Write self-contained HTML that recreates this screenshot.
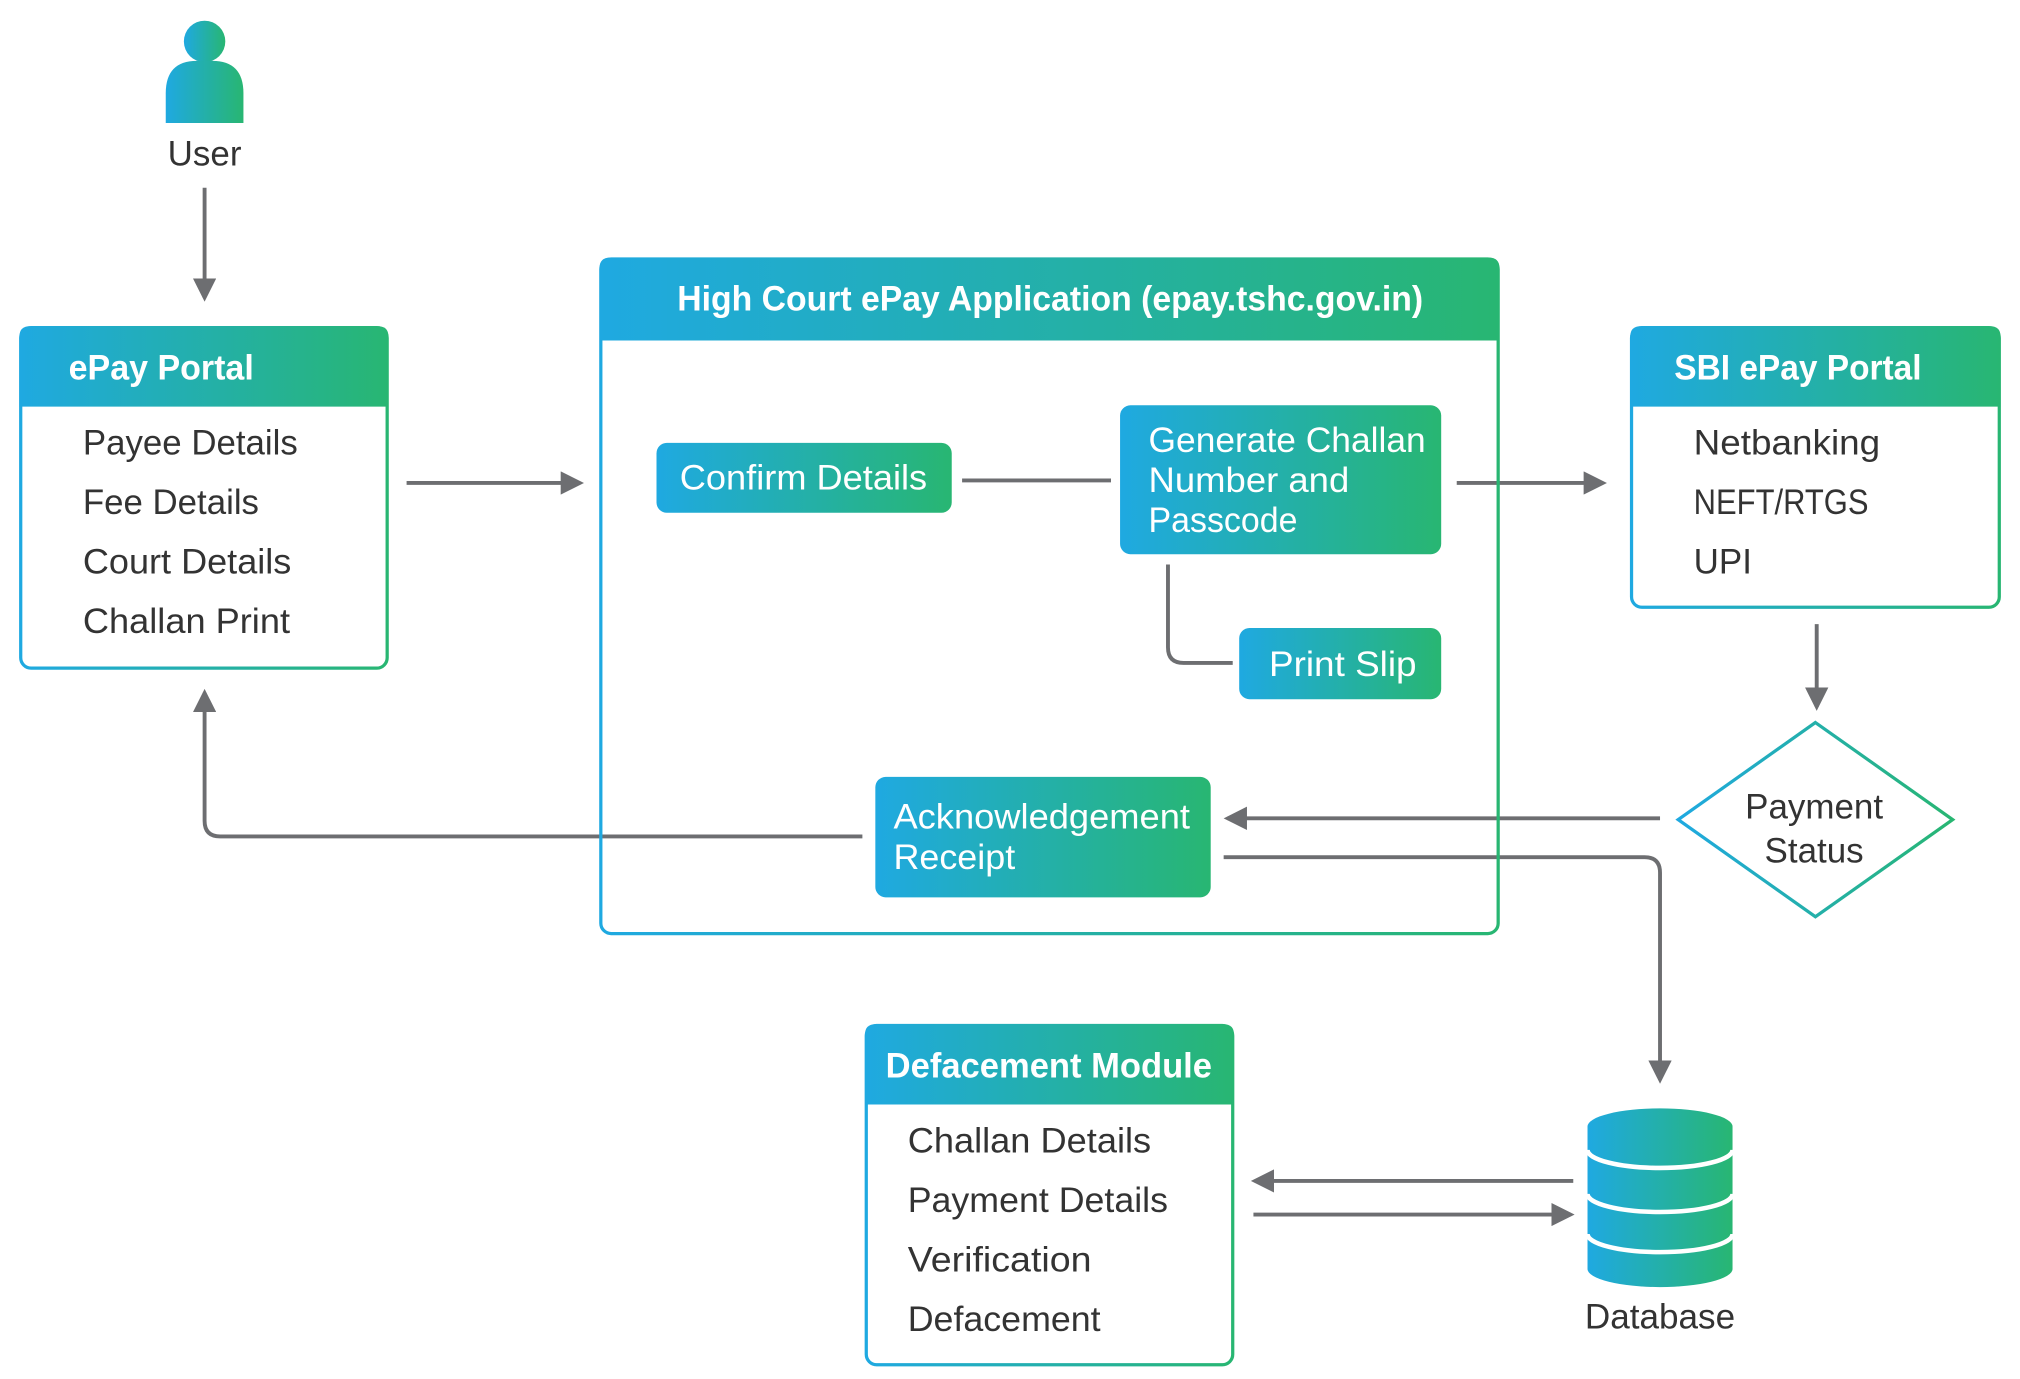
<!DOCTYPE html>
<html><head><meta charset="utf-8"><style>html,body{margin:0;padding:0;background:#fff}svg{display:block}</style></head>
<body>
<svg width="2020" height="1379" viewBox="0 0 1560 1065" preserveAspectRatio="none" xmlns="http://www.w3.org/2000/svg" font-family="'Liberation Sans',sans-serif">
<defs>
<linearGradient id="g" x1="0" y1="0" x2="1" y2="0"><stop offset="0" stop-color="#1fa9e1"/><stop offset="1" stop-color="#28b672"/></linearGradient>
<marker id="a" markerWidth="6" markerHeight="6" refX="5" refY="3" orient="auto" markerUnits="strokeWidth"><path d="M0,0 L6,3 L0,6 z" fill="#6d6e71"/></marker>
</defs>
<g fill="none" stroke="#6d6e71" stroke-width="3">
<path d="M158 145 V230" marker-end="url(#a)"/>
<path d="M314 373 H448" marker-end="url(#a)"/>
<path d="M743 371 H858"/>
<path d="M902 436 V500 Q902 512 914 512 H952"/>
<path d="M1125 373 H1238" marker-end="url(#a)"/>
<path d="M1403 482 V546" marker-end="url(#a)"/>
<path d="M1282 632 H948" marker-end="url(#a)"/>
<path d="M945 662 H1270 Q1282 662 1282 674 V834" marker-end="url(#a)"/>
<path d="M666 646 H170 Q158 646 158 634 V535" marker-end="url(#a)"/>
<path d="M1215 912 H969" marker-end="url(#a)"/>
<path d="M968 938 H1213" marker-end="url(#a)"/>
</g>
<circle cx="158" cy="32" r="16" fill="url(#g)"/>
<path d="M128 95 V72 Q128 47 152 47 H164 Q188 47 188 72 V95 Z" fill="url(#g)"/>
<text x="158" y="128" text-anchor="middle" font-size="27" fill="#333">User</text>
<path d="M15 314 V260 Q15 252 23 252 H292 Q300 252 300 260 V314 Z" fill="url(#g)"/>
<rect x="16" y="253" width="283" height="263" rx="8" fill="none" stroke="url(#g)" stroke-width="2.5"/>
<text x="53" y="293" font-size="27" font-weight="bold" fill="#fff" textLength="143" lengthAdjust="spacingAndGlyphs">ePay Portal</text>
<g font-size="27" fill="#333"><text x="64" y="351" textLength="166" lengthAdjust="spacingAndGlyphs">Payee Details</text><text x="64" y="397" textLength="136" lengthAdjust="spacingAndGlyphs">Fee Details</text><text x="64" y="443" textLength="161" lengthAdjust="spacingAndGlyphs">Court Details</text><text x="64" y="489" textLength="160" lengthAdjust="spacingAndGlyphs">Challan Print</text></g>
<path d="M463 263 V207 Q463 199 471 199 H1150 Q1158 199 1158 207 V263 Z" fill="url(#g)"/>
<rect x="464" y="200" width="693" height="521" rx="8" fill="none" stroke="url(#g)" stroke-width="2.5"/>
<text x="523" y="240" font-size="27" font-weight="bold" fill="#fff" textLength="576" lengthAdjust="spacingAndGlyphs">High Court ePay Application (epay.tshc.gov.in)</text>
<rect x="507" y="342" width="228" height="54" rx="8" fill="url(#g)"/>
<text x="525" y="378" font-size="27" fill="#fff" textLength="191" lengthAdjust="spacingAndGlyphs">Confirm Details</text>
<rect x="865" y="313" width="248" height="115" rx="8" fill="url(#g)"/>
<g font-size="27" fill="#fff"><text x="887" y="349" textLength="214" lengthAdjust="spacingAndGlyphs">Generate Challan</text><text x="887" y="380" textLength="155" lengthAdjust="spacingAndGlyphs">Number and</text><text x="887" y="411" textLength="115" lengthAdjust="spacingAndGlyphs">Passcode</text></g>
<rect x="957" y="485" width="156" height="55" rx="8" fill="url(#g)"/>
<text x="980" y="522" font-size="27" fill="#fff" textLength="114" lengthAdjust="spacingAndGlyphs">Print Slip</text>
<rect x="676" y="600" width="259" height="93" rx="8" fill="url(#g)"/>
<g font-size="27" fill="#fff"><text x="690" y="640" textLength="229" lengthAdjust="spacingAndGlyphs">Acknowledgement</text><text x="690" y="671" textLength="94" lengthAdjust="spacingAndGlyphs">Receipt</text></g>
<path d="M1259 314 V260 Q1259 252 1267 252 H1537 Q1545 252 1545 260 V314 Z" fill="url(#g)"/>
<rect x="1260" y="253" width="284" height="216" rx="8" fill="none" stroke="url(#g)" stroke-width="2.5"/>
<text x="1293" y="293" font-size="27" font-weight="bold" fill="#fff" textLength="191" lengthAdjust="spacingAndGlyphs">SBI ePay Portal</text>
<g font-size="27" fill="#333"><text x="1308" y="351" textLength="144" lengthAdjust="spacingAndGlyphs">Netbanking</text><text x="1308" y="397" textLength="135" lengthAdjust="spacingAndGlyphs">NEFT/RTGS</text><text x="1308" y="443">UPI</text></g>
<path d="M1402 558 L1508 633 L1402 708 L1296 633 Z" fill="#fff" stroke="url(#g)" stroke-width="2.5"/>
<g font-size="27" fill="#333" text-anchor="middle"><text x="1401" y="632">Payment</text><text x="1401" y="666">Status</text></g>
<path d="M668 853 V799 Q668 791 676 791 H945 Q953 791 953 799 V853 Z" fill="url(#g)"/>
<rect x="669" y="792" width="283" height="262" rx="8" fill="none" stroke="url(#g)" stroke-width="2.5"/>
<text x="684" y="832" font-size="27" font-weight="bold" fill="#fff" textLength="252" lengthAdjust="spacingAndGlyphs">Defacement Module</text>
<g font-size="27" fill="#333"><text x="701" y="890" textLength="188" lengthAdjust="spacingAndGlyphs">Challan Details</text><text x="701" y="936" textLength="201" lengthAdjust="spacingAndGlyphs">Payment Details</text><text x="701" y="982" textLength="142" lengthAdjust="spacingAndGlyphs">Verification</text><text x="701" y="1028" textLength="149" lengthAdjust="spacingAndGlyphs">Defacement</text></g>
<path d="M1226 870 V980 A56 14 0 0 0 1338 980 V870 Z" fill="url(#g)"/>
<ellipse cx="1282" cy="870" rx="56" ry="14" fill="url(#g)"/>
<g fill="none" stroke="#fff" stroke-width="3.5">
<path d="M1226 888 A56 14 0 0 0 1338 888"/>
<path d="M1226 922 A56 14 0 0 0 1338 922"/>
<path d="M1226 953 A56 14 0 0 0 1338 953"/>
</g>
<text x="1282" y="1026" text-anchor="middle" font-size="27" fill="#333" textLength="116" lengthAdjust="spacingAndGlyphs">Database</text>
</svg>
</body></html>
